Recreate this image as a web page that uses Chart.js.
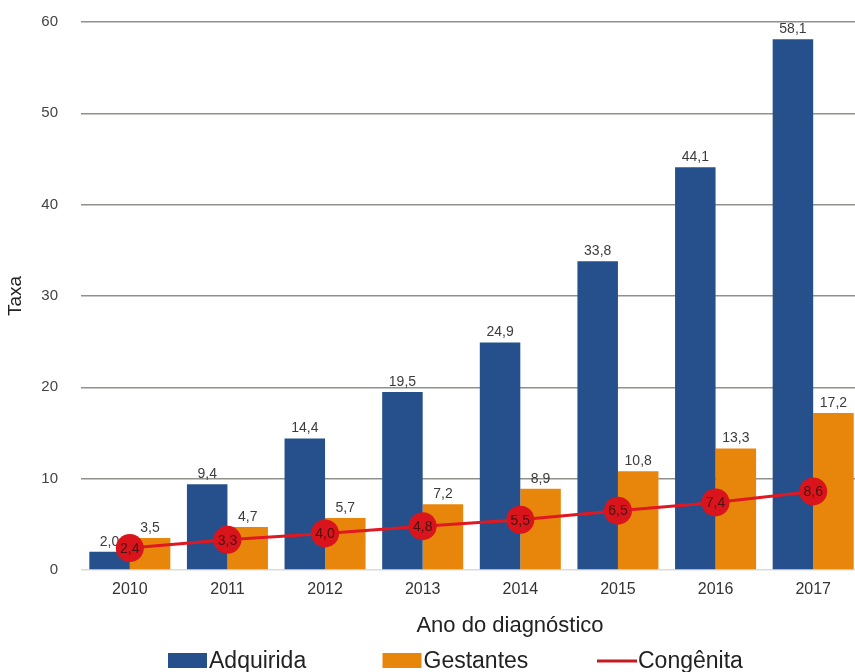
<!DOCTYPE html>
<html>
<head>
<meta charset="utf-8">
<script src="https://cdn.jsdelivr.net/npm/chart.js@4/dist/chart.umd.min.js"></script>
<style>
  html, body { margin: 0; padding: 0; background: #fff; overflow: hidden; }
  #wrap { position: relative; width: 876px; height: 672px; }
  canvas { display: block; }
</style>
</head>
<body>
<div id="wrap"><canvas id="c" width="876" height="672"></canvas></div>
<script>
const categories = ['2010', '2011', '2012', '2013', '2014', '2015', '2016', '2017'];
const adquirida = [2.0, 9.4, 14.4, 19.5, 24.9, 33.8, 44.1, 58.1];
const gestantes = [3.5, 4.7, 5.7, 7.2, 8.9, 10.8, 13.3, 17.2];
const congenita = [2.4, 3.3, 4.0, 4.8, 5.5, 6.5, 7.4, 8.6];
const seriesNames = ['Adquirida', 'Gestantes', 'Congênita'];
const yTicks = [0, 10, 20, 30, 40, 50, 60];
const xTitle = 'Ano do diagnóstico';
const yTitle = 'Taxa';

const BLUE = '#26508c';
const ORANGE = '#e8860c';
const RED = '#d9141c';
const FONT = "'Liberation Sans', Arial, sans-serif";

function fmt(v) { return v.toFixed(1).replace('.', ','); }

const labelPlugin = {
  id: 'valueLabels',
  afterDatasetDraw(chart, args) {
    const ctx = chart.ctx;
    const ds = chart.data.datasets[args.index];
    const meta = args.meta;
    ctx.save();
    ctx.textAlign = 'center';
    if (ds.type === 'line') {
      ctx.font = '14px ' + FONT;
      ctx.fillStyle = '#4a1212';
      ctx.textBaseline = 'middle';
      meta.data.forEach((pt, i) => ctx.fillText(fmt(ds.data[i]), pt.x, pt.y + 1));
    } else {
      ctx.font = '14px ' + FONT;
      ctx.fillStyle = '#3c3c3c';
      ctx.textBaseline = 'bottom';
      meta.data.forEach((bar, i) => ctx.fillText(fmt(ds.data[i]), bar.x, bar.y - 3));
    }
    ctx.restore();
  }
};

const decorPlugin = {
  id: 'decor',
  afterDraw(chart) {
    const ctx = chart.ctx;
    ctx.save();
    // x axis title
    ctx.font = '22px ' + FONT;
    ctx.fillStyle = '#222';
    ctx.textAlign = 'center';
    ctx.textBaseline = 'alphabetic';
    ctx.fillText(xTitle, 510, 632);
    // legend
    ctx.font = '23px ' + FONT;
    ctx.textAlign = 'left';
    const yMid = 661;
    chart.data.datasets.forEach((ds, i) => {
      let x = 168 + i * 214.5;
      if (ds.type === 'line') {
        ctx.strokeStyle = '#c41a22';
        ctx.lineWidth = 3;
        ctx.beginPath();
        ctx.moveTo(x, yMid);
        ctx.lineTo(x + 40, yMid);
        ctx.stroke();
        x += 41;
      } else {
        ctx.fillStyle = ds.backgroundColor;
        ctx.fillRect(x, 653, 39, 15);
        x += 41;
      }
      ctx.fillStyle = '#222';
      ctx.fillText(ds.label, x, 668);
    });
    ctx.restore();
  }
};

new Chart(document.getElementById('c'), {
  type: 'bar',
  data: {
    labels: categories,
    datasets: [
      { type: 'bar', label: seriesNames[0], data: adquirida, backgroundColor: BLUE, order: 1,
        categoryPercentage: 0.83, barPercentage: 1.0 },
      { type: 'bar', label: seriesNames[1], data: gestantes, backgroundColor: ORANGE, order: 1,
        categoryPercentage: 0.83, barPercentage: 1.0 },
      { type: 'line', label: seriesNames[2], data: congenita, borderColor: '#e01822', borderWidth: 3,
        pointRadius: 14, pointBackgroundColor: RED, pointBorderColor: RED, pointBorderWidth: 0,
        pointHoverRadius: 14, tension: 0, order: 0 }
    ]
  },
  options: {
    responsive: false,
    animation: false,
    devicePixelRatio: 1,
    layout: { padding: { top: 22, bottom: 70, left: 0, right: 0 } },
    plugins: { legend: { display: false }, tooltip: { enabled: false } },
    scales: {
      x: {
        grid: { display: false, drawTicks: false },
        border: { display: false },
        ticks: { color: '#333', font: { size: 16, family: FONT }, padding: 10 },
        afterFit(s) { s.height = 32; s.paddingLeft = 0; s.paddingRight = 0; }
      },
      y: {
        min: 0, max: 60,
        afterBuildTicks(s) { s.ticks = yTicks.map(v => ({ value: v })); },
        grid: {
          color: c => (c.tick && c.tick.value === 0) ? '#dcdcdc' : '#8e928a',
          lineWidth: 1.5, drawTicks: false
        },
        border: { display: false },
        ticks: { color: '#444', font: { size: 15, family: FONT }, padding: 23 },
        title: { display: true, text: yTitle, color: '#222', font: { size: 19, family: FONT }, padding: { top: 4, bottom: 0 } },
        afterFit(s) { s.width = 81; s.paddingTop = 9; s.paddingBottom = 9; }
      }
    }
  },
  plugins: [labelPlugin, decorPlugin]
});
</script>
</body>
</html>
